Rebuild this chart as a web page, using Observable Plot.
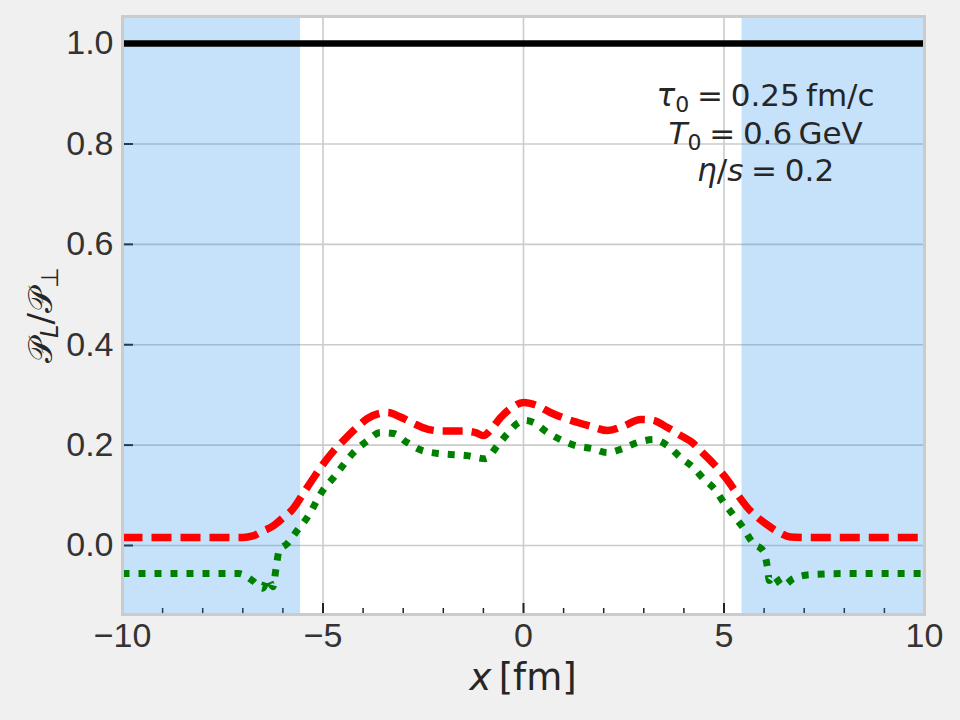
<!DOCTYPE html>
<html><head><meta charset="utf-8">
<script src="https://cdn.jsdelivr.net/npm/d3@7"></script>
<script src="https://cdn.jsdelivr.net/npm/@observablehq/plot@0.6"></script>
<style>html,body{margin:0;padding:0;background:#f0f0f0;} svg{display:block}</style>
</head><body><div id="chart"></div><script>
// ---- data ----
const xDomain = [-10, 10];
const yDomain = [-0.1375, 1.054];
const xTicks = [-10, -5, 0, 5, 10];
const xMinorTicks = [-9, -8, -7, -6, -4, -3, -2, -1, 1, 2, 3, 4, 6, 7, 8, 9];
const yTicks = [0, 0.2, 0.4, 0.6, 0.8, 1.0];
const xGrid = [-5, 0, 5];
const shadedX1 = [-10, 5.45];
const shadedX2 = [-5.56, 10];

const blackX = [-10, 10];
const blackY = [1.0, 1.0];

const redX = [-10, -8, -7.0, -6.75, -6.5, -6.26, -6.0, -5.76, -5.49, -5.25, -4.99, -4.74, -4.49, -4.2, -3.89, -3.6, -3.39, -3.07, -2.74, -2.4, -2.0, -1.5, -1.2, -1.0, -0.8, -0.57, -0.3, 0.0, 0.3, 0.67, 1.0, 1.35, 1.7, 2.1, 2.5, 2.92, 3.2, 3.59, 3.9, 4.24, 4.41, 4.75, 5.09, 5.35, 5.59, 5.85, 6.08, 6.35, 6.66, 7.0, 8, 10];
const redY = [0.016, 0.016, 0.016, 0.019, 0.029, 0.038, 0.055, 0.072, 0.104, 0.133, 0.163, 0.188, 0.209, 0.232, 0.253, 0.263, 0.265, 0.256, 0.243, 0.232, 0.228, 0.228, 0.225, 0.219, 0.232, 0.255, 0.274, 0.285, 0.280, 0.265, 0.254, 0.245, 0.237, 0.229, 0.238, 0.251, 0.250, 0.235, 0.220, 0.203, 0.189, 0.162, 0.130, 0.100, 0.075, 0.055, 0.041, 0.027, 0.017, 0.016, 0.016, 0.016];

const greenX = [-10, -8, -7.1, -6.76, -6.5, -6.38, -6.25, -6.17, -6.1, -5.89, -5.64, -5.39, -5.0, -4.74, -4.24, -3.89, -3.57, -3.24, -2.9, -2.52, -2.07, -1.4, -0.95, -0.65, -0.4, -0.12, 0.05, 0.25, 0.6, 0.92, 1.3, 1.72, 2.09, 2.47, 2.84, 3.24, 3.59, 3.92, 4.24, 4.49, 4.79, 4.99, 5.24, 5.49, 5.71, 5.99, 6.08, 6.13, 6.23, 6.46, 6.73, 7.16, 8, 10];
const greenY = [-0.056, -0.056, -0.056, -0.070, -0.085, -0.066, -0.082, -0.045, -0.012, 0.004, 0.030, 0.056, 0.110, 0.135, 0.185, 0.209, 0.225, 0.223, 0.205, 0.189, 0.183, 0.179, 0.173, 0.199, 0.223, 0.245, 0.249, 0.245, 0.225, 0.211, 0.199, 0.193, 0.185, 0.193, 0.205, 0.211, 0.199, 0.175, 0.155, 0.133, 0.110, 0.086, 0.060, 0.034, 0.006, -0.012, -0.042, -0.070, -0.060, -0.080, -0.066, -0.058, -0.056, -0.056];

const annotationLines = [
  [["τ", "i"], ["0", "sub"], ["\u2005=\u20050.25\u2009fm/c", ""]],
  [["T", "i"], ["0", "sub"], ["\u2005=\u20050.6\u2009GeV", ""]],
  [["η", "i"], ["/", ""], ["s", "i"], ["\u2005=\u20050.2", ""]]
];
const annotationX = 6.05;
const annotationY = [0.896, 0.82, 0.747];

// ---- tables ----
const zip = (xs, ys) => xs.map((x, i) => ({x, y: ys[i]}));
const red = zip(redX, redY);
const green = zip(greenX, greenY);
const black = zip(blackX, blackY);
const shaded = shadedX1.map((x1, i) => ({x1, x2: shadedX2[i]}));

const W = 960, H = 720, mL = 122, mR = 36, mT = 16, mB = 106;
const pxY = (yDomain[1] - yDomain[0]) / (H - mT - mB);
const pxX = (xDomain[1] - xDomain[0]) / (W - mL - mR);

const plot = Plot.plot({
  width: W, height: H,
  marginLeft: mL, marginRight: mR, marginTop: mT, marginBottom: mB,
  style: {background: "#f0f0f0", color: "#333", fontFamily: "'Liberation Sans', Arial, sans-serif", fontSize: "34px"},
  x: {domain: xDomain, ticks: xTicks, tickSize: 0, tickPadding: 8, label: null},
  y: {domain: yDomain, ticks: yTicks, tickSize: 0, tickPadding: 9, label: null, tickFormat: d => d.toFixed(1)},
  marks: [
    Plot.frame({fill: "white"}),
    Plot.ruleX(xGrid, {x: d => d, stroke: "#cbcbcb", strokeWidth: 1.6, strokeOpacity: 1}),
    Plot.ruleY(yTicks, {y: d => d, stroke: "#cbcbcb", strokeWidth: 1.6, strokeOpacity: 1}),
    Plot.ruleX(xMinorTicks, {x: d => d, y1: yDomain[0], y2: yDomain[0] + 6 * pxY, stroke: "#222", strokeWidth: 1.5}),
    Plot.ruleX(xTicks, {x: d => d, y1: yDomain[0], y2: yDomain[0] + 11 * pxY, stroke: "#222", strokeWidth: 2}),
    Plot.ruleY(yTicks, {y: d => d, x1: xDomain[0], x2: xDomain[0] + 11 * pxX, stroke: "#222", strokeWidth: 2}),
    Plot.rect(shaded, {x1: "x1", x2: "x2", y1: () => yDomain[0], y2: () => yDomain[1], fill: "#1b8bef", fillOpacity: 0.25}),
    Plot.line(black, {x: "x", y: "y", stroke: "black", strokeWidth: 6.5, strokeLinecap: "butt"}),
    Plot.line(red, {x: "x", y: "y", stroke: "#ff0000", strokeWidth: 7.5, strokeDasharray: "20,9", strokeLinecap: "butt", curve: "monotone-x", strokeLinejoin: "round"}),
    Plot.line(green, {x: "x", y: "y", stroke: "#008000", strokeWidth: 7, strokeDasharray: "7,9", strokeLinecap: "butt", curve: "monotone-x", strokeLinejoin: "round"}),
    Plot.frame({stroke: "#cbcbcb", strokeWidth: 3})
  ]
});
document.getElementById("chart").appendChild(plot);

const sx = plot.scale("x"), sy = plot.scale("y");
const svg = d3.select(plot);
const mathFont = "'DejaVu Sans', sans-serif";

// annotation
annotationLines.forEach((segs, i) => {
  const t = svg.append("text")
    .attr("x", sx.apply(annotationX)).attr("y", sy.apply(annotationY[i]))
    .attr("text-anchor", "middle").attr("dy", "0.35em")
    .attr("font-family", mathFont).attr("font-size", 31).attr("fill", "#262626");
  segs.forEach(([s, k]) => {
    const ts = t.append("tspan").text(s);
    if (k === "i") ts.attr("font-style", "italic");
    if (k === "sub") ts.attr("font-size", 22).attr("baseline-shift", "-25%");
  });
});

// x label
const xl = svg.append("text").attr("x", sx.apply(0)).attr("y", 690)
  .attr("text-anchor", "middle").attr("font-family", mathFont).attr("font-size", 37).attr("fill", "#262626");
xl.append("tspan").attr("font-style", "italic").text("x");
xl.append("tspan").text("\u2009[fm]");

// y label
const yl = svg.append("text").attr("transform", `translate(52,${sy.apply((yDomain[0] + yDomain[1]) / 2)}) rotate(-90)`)
  .attr("text-anchor", "middle").attr("font-family", mathFont).attr("font-size", 34).attr("fill", "#262626");
yl.append("tspan").text("𝒫");
yl.append("tspan").attr("font-size", 24).attr("font-style", "italic").attr("baseline-shift", "-25%").text("L");
yl.append("tspan").text("/𝒫");
yl.append("tspan").attr("font-size", 24).attr("baseline-shift", "-25%").text("⊥");
</script></body></html>
